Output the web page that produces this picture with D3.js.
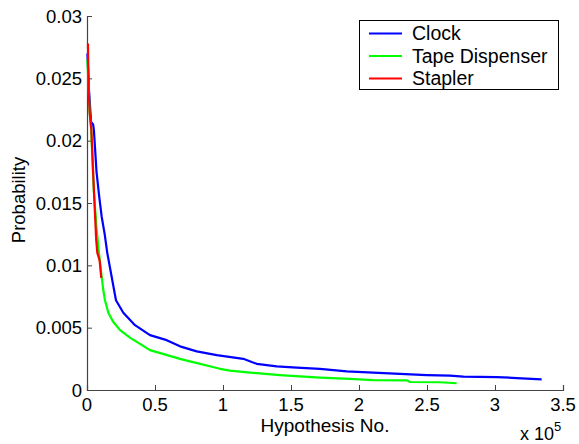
<!DOCTYPE html>
<html>
<head>
<meta charset="utf-8">
<script src="https://cdn.jsdelivr.net/npm/d3@7"></script>
<style>
  body { margin: 0; background: #fff; }
  text { font-family: "Liberation Sans", Arial, sans-serif; fill: #000; }
</style>
</head>
<body>
<script>
// x values in units of 1e5
const clockX = [0.003, 0.015, 0.03, 0.045, 0.051, 0.07, 0.09, 0.108, 0.13, 0.149, 0.186, 0.213, 0.267, 0.353, 0.463, 0.586, 0.684, 0.807, 0.954, 1.149, 1.248, 1.395, 1.542, 1.713, 1.91, 2.105, 2.301, 2.498, 2.669, 2.767, 3.013, 3.16, 3.343];
const clockY = [0.027, 0.024, 0.0215, 0.0213, 0.0208, 0.0175, 0.0155, 0.0139, 0.0125, 0.011, 0.0088, 0.0072, 0.0062, 0.0052, 0.0044, 0.0040, 0.0035, 0.0031, 0.0028, 0.0025, 0.0021, 0.0019, 0.0018, 0.0017, 0.0015, 0.0014, 0.0013, 0.0012, 0.00115, 0.00107, 0.00104, 0.00096, 0.00086];

const tapeX = [0.003, 0.02, 0.03, 0.05, 0.07, 0.083, 0.1, 0.12, 0.132, 0.157, 0.191, 0.243, 0.316, 0.463, 0.684, 0.757, 0.978, 1.051, 1.199, 1.419, 1.566, 1.713, 1.934, 2.105, 2.351, 2.375, 2.596, 2.718];
const tapeY = [0.0265, 0.0222, 0.021, 0.016, 0.013, 0.0115, 0.0098, 0.0080, 0.0072, 0.0062, 0.0055, 0.0048, 0.0042, 0.0032, 0.0025, 0.0023, 0.0017, 0.00155, 0.0014, 0.0012, 0.0011, 0.0010, 0.0009, 0.0008, 0.00078, 0.00064, 0.00062, 0.00054];

const staplerX = [0.007, 0.012, 0.02, 0.032, 0.045, 0.057, 0.068, 0.076, 0.093, 0.105];
const staplerY = [0.0278, 0.024, 0.0222, 0.0209, 0.0175, 0.0145, 0.012, 0.011, 0.0104, 0.009];

const seriesNames = ["Clock", "Tape Dispenser", "Stapler"];
const seriesColors = ["#0000ff", "#00ff00", "#ff0000"];
const xTicks = [0, 0.5, 1, 1.5, 2, 2.5, 3, 3.5];
const yTicks = [0, 0.005, 0.01, 0.015, 0.02, 0.025, 0.03];

const width = 579, height = 444;
const margin = { left: 87, right: 16, top: 16, bottom: 54 };

const svg = d3.select("body").append("svg")
    .attr("width", width)
    .attr("height", height);

const x = d3.scaleLinear().domain([0, 3.5]).range([margin.left, width - margin.right]);
const y = d3.scaleLinear().domain([0, 0.03]).range([height - margin.bottom, margin.top]);

// axes, MATLAB style ticks pointing inward
const xAxis = svg.append("g")
    .attr("transform", `translate(0,${height - margin.bottom})`)
    .call(d3.axisTop(x).tickValues(xTicks).tickSize(5).tickFormat(""));
const yAxis = svg.append("g")
    .attr("transform", `translate(${margin.left},0)`)
    .call(d3.axisRight(y).tickValues(yTicks).tickSize(5).tickFormat(""));
[xAxis, yAxis].forEach(a => {
    a.select(".domain").attr("stroke", "#444").attr("stroke-width", 1.2);
    a.selectAll(".tick line").attr("stroke", "#444");
});

svg.append("g").selectAll("text")
    .data(xTicks)
    .enter().append("text")
    .attr("x", d => x(d))
    .attr("y", height - margin.bottom + 20.5)
    .attr("text-anchor", "middle")
    .attr("font-size", 18.5)
    .text(d => d);

svg.append("g").selectAll("text")
    .data(yTicks)
    .enter().append("text")
    .attr("x", margin.left - 5)
    .attr("y", d => y(d) + 6.5)
    .attr("text-anchor", "end")
    .attr("font-size", 18.5)
    .text(d => d);

// exponent label
const expo = svg.append("text")
    .attr("x", 520)
    .attr("y", 440)
    .attr("font-size", 18);
expo.append("tspan").text("x 10");
expo.append("tspan").attr("dy", -9).attr("font-size", 13).text("5");

// axis titles
svg.append("text")
    .attr("x", 325)
    .attr("y", 431.5)
    .attr("text-anchor", "middle")
    .attr("font-size", 19)
    .text("Hypothesis No.");

svg.append("text")
    .attr("transform", `translate(25,${(margin.top + height - margin.bottom) / 2 - 3}) rotate(-90)`)
    .attr("text-anchor", "middle")
    .attr("font-size", 18.5)
    .text("Probability");

// lines
const line = d3.line()
    .x(d => x(d[0]))
    .y(d => y(d[1]));

const seriesData = [
    d3.zip(clockX, clockY),
    d3.zip(tapeX, tapeY),
    d3.zip(staplerX, staplerY)
];

// draw order: clock, tape, stapler (stapler on top)
svg.append("g").selectAll("path")
    .data(seriesData)
    .enter().append("path")
    .attr("d", line)
    .attr("fill", "none")
    .attr("stroke", (d, i) => seriesColors[i])
    .attr("stroke-width", 2.2)
    .attr("stroke-linejoin", "round");

// legend
const legend = svg.append("g");
legend.append("rect")
    .attr("x", 359.5)
    .attr("y", 20.5)
    .attr("width", 199)
    .attr("height", 69)
    .attr("fill", "#fff")
    .attr("stroke", "#000");

const rows = legend.selectAll("g")
    .data(seriesNames)
    .enter().append("g")
    .attr("transform", (d, i) => `translate(0,${33.5 + i * 22.5})`);

rows.append("line")
    .attr("x1", 369)
    .attr("x2", 402)
    .attr("y1", 0)
    .attr("y2", 0)
    .attr("stroke", (d, i) => seriesColors[i])
    .attr("stroke-width", 2);

rows.append("text")
    .attr("x", 412)
    .attr("y", 6.8)
    .attr("font-size", 19.5)
    .text(d => d);
</script>
</body>
</html>
